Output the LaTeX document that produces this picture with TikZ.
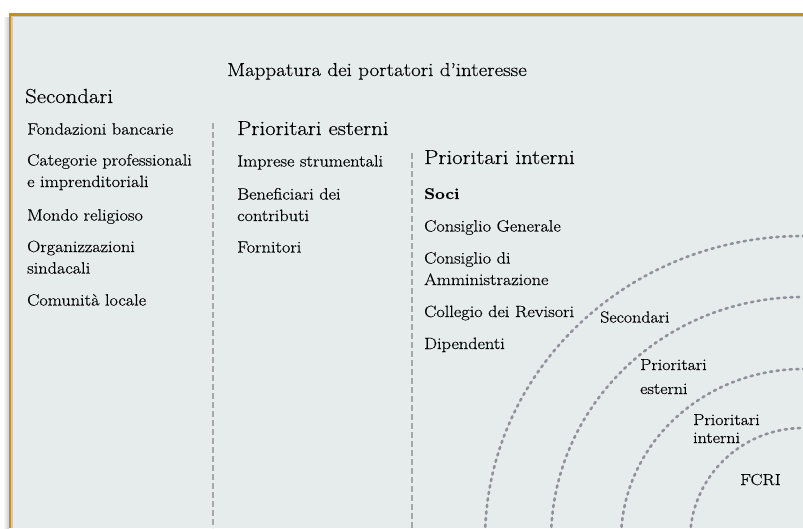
\documentclass[tikz,border=0pt]{standalone}
\usepackage{fontspec}
\setmainfont{Latin Modern Roman}[FakeStretch=1.12, FakeBold=0.4]
\definecolor{panel}{HTML}{E6EBEB}
\definecolor{frame}{HTML}{C98B22}
\definecolor{rim}{HTML}{C5CACA}
\definecolor{divgrey}{HTML}{A6A6A6}
\definecolor{ringgrey}{HTML}{8F929C}
\tikzset{title/.style={anchor=base, inner sep=0pt, font=\fontsize{18.75}{24}\selectfont}}
\tikzset{head/.style={anchor=base west, inner sep=0pt, font=\fontsize{20.3}{24}\selectfont}}
\tikzset{item/.style={anchor=base west, inner sep=0pt, align=left,
   font=\fontsize{16.3}{21.5}\selectfont}}
\tikzset{ringlabel/.style={anchor=base west, inner sep=0pt, align=left,
   font=\fontsize{16}{18}\selectfont}}
\tikzset{divider/.style={draw=divgrey, line width=2pt, dash pattern=on 6pt off 3pt}}
\tikzset{ring/.style={draw=ringgrey, line width=2.6pt, line cap=round,
   dash pattern=on 2.2pt off 4.4pt}}

\begin{document}
\begin{tikzpicture}[x=1pt,y=-1pt]

    \useasboundingbox (0,0) rectangle (803,528);
    \clip (0,0) rectangle (803,528);

    % panel
    \shade[left color=white, right color=black!20] (3,17) rectangle (9,528);
    \fill[panel] (9,13) rectangle (803,528);
    \fill[rim] (11,15.5) rectangle (803,17);
    \fill[rim] (11,15.5) rectangle (12.5,528);
    \fill[frame] (9,13) rectangle (803,15.5);
    \fill[frame] (9,13) rectangle (11,528);

    \node[title] (title) at (377,76) {Mappatura dei portatori d’interesse};

    % secondari
    \node[head] (sec) at (25,103) {Secondari};
    \node[item] (sec-1) at (27,134.5) {Fondazioni bancarie};
    \node[item] (sec-2) at (27,187) {Categorie professionali\\e imprenditoriali};
    \node[item] (sec-3) at (27,220.5) {Mondo religioso};
    \node[item] (sec-4) at (27,273.5) {Organizzazioni\\sindacali};
    \node[item] (sec-5) at (27,305.5) {Comunità locale};

    % prioritari esterni
    \node[head] (est) at (237,135) {Prioritari esterni};
    \node[item] (est-1) at (237,166.5) {Imprese strumentali};
    \node[item] (est-2) at (237,221) {Beneficiari dei\\contributi};
    \node[item] (est-3) at (237,252.5) {Fornitori};

    % prioritari interni
    \node[head] (int) at (424,164) {Prioritari interni};
    \node[item, font=\fontsize{15.5}{21.5}\selectfont\bfseries] (int-1) at (424,199) {Soci};
    \node[item] (int-2) at (424,231.5) {Consiglio Generale};
    \node[item] (int-3) at (424,285) {Consiglio di\\Amministrazione};
    \node[item] (int-4) at (424,317) {Collegio dei Revisori};
    \node[item] (int-5) at (424,349) {Dipendenti};

    \coordinate (d1) at (213,123);
    \coordinate (d2) at (411.5,153);
    \coordinate (bottom) at (0,528);
    \draw[divider] (d1) -- (d1 |- bottom);
    \draw[divider] (d2) -- (d2 |- bottom);

    % rings
    \coordinate (c) at (803,540);
    \foreach \a/\b in {318/304, 252/243, 182/171, 113/112}
      \draw[ring] (c) ++(-\a,0) arc[start angle=180, end angle=270, x radius=\a, y radius=\b];

    \node[ringlabel] (r-sec) at (600,322.5) {Secondari};
    \node[ringlabel, font=\fontsize{16}{24}\selectfont] (r-est) at (640,394) {Prioritari\\esterni};
    \node[ringlabel] (r-int) at (693,443) {Prioritari\\interni};
    \node[ringlabel] (fcri) at (740,485) {FCRI};

  \end{tikzpicture}
\end{document}
